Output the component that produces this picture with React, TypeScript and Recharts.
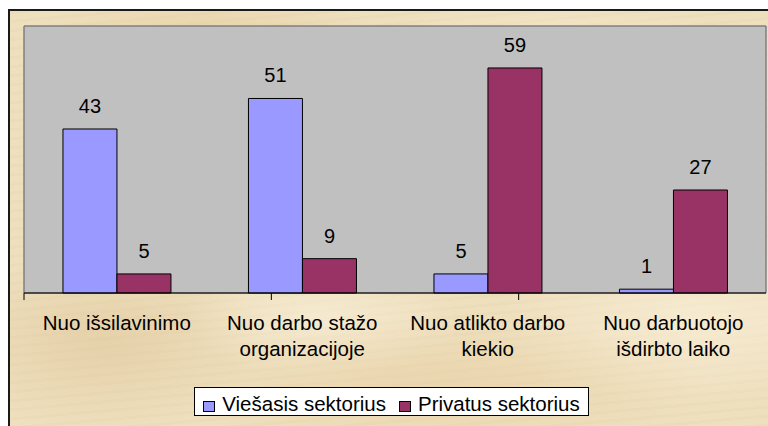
import React from "react";
import { BarChart, Bar, XAxis, YAxis, CartesianGrid, LabelList, Legend } from "recharts";

const categories = [
  "Nuo išsilavinimo",
  "Nuo darbo stažo organizacijoje",
  "Nuo atlikto darbo kiekio",
  "Nuo darbuotojo išdirbto laiko",
];
const tickLines = [
  ["Nuo išsilavinimo"],
  ["Nuo darbo stažo", "organizacijoje"],
  ["Nuo atlikto darbo", "kiekio"],
  ["Nuo darbuotojo", "išdirbto laiko"],
];
const publicSector = [43, 51, 5, 1];
const privateSector = [5, 9, 59, 27];
const seriesNames = ["Viešasis sektorius", "Privatus sektorius"];
const seriesColors = ["#9999ff", "#993366"];
const yTicks = [0, 70];
const boundaryTicks = [0, 1, 2, 3, 4];

const data = categories.map((c, i) => ({
  category: c,
  pub: publicSector[i],
  priv: privateSector[i],
}));

const FONT = "Arial, 'Liberation Sans', sans-serif";

const CategoryTick = (props: any) => {
  const { x, y, payload } = props;
  const idx = categories.indexOf(payload.value);
  const lines = tickLines[idx] || [String(payload.value)];
  return (
    <g>
      {lines.map((l, i) => (
        <text
          key={i}
          x={x}
          y={y + 36 + i * 26}
          textAnchor="middle"
          fontFamily={FONT}
          fontSize={20.5}
          fill="#000"
        >
          {l}
        </text>
      ))}
    </g>
  );
};

const LegendBox = () => (
  <div
    style={{
      boxSizing: "border-box",
      width: 395,
      height: 29,
      border: "1px solid #000",
      background: "#fff",
      display: "flex",
      alignItems: "center",
      justifyContent: "center",
      paddingTop: 4,
      fontFamily: FONT,
      fontSize: 20.5,
      color: "#000",
      whiteSpace: "nowrap",
    }}
  >
    {seriesNames.map((n, i) => (
      <div
        key={n}
        style={{ display: "flex", alignItems: "center", marginLeft: i === 0 ? 0 : 13 }}
      >
        <span
          style={{
            display: "inline-block",
            boxSizing: "border-box",
            width: 12,
            height: 11,
            border: "1px solid #000",
            background: seriesColors[i],
            marginRight: 7,
            marginTop: 6,
          }}
        />
        <span>{n}</span>
      </div>
    ))}
  </div>
);

const parchment = [
  "radial-gradient(ellipse 180px 60px at 25% 8%, rgba(225,200,150,0.55), rgba(225,200,150,0) 100%)",
  "radial-gradient(ellipse 220px 80px at 70% 15%, rgba(250,240,215,0.7), rgba(250,240,215,0) 100%)",
  "radial-gradient(ellipse 160px 90px at 12% 75%, rgba(220,195,150,0.5), rgba(220,195,150,0) 100%)",
  "radial-gradient(ellipse 260px 70px at 55% 85%, rgba(230,205,160,0.5), rgba(230,205,160,0) 100%)",
  "radial-gradient(ellipse 200px 90px at 88% 70%, rgba(250,240,218,0.7), rgba(250,240,218,0) 100%)",
  "radial-gradient(ellipse 140px 60px at 40% 70%, rgba(250,242,222,0.6), rgba(250,242,222,0) 100%)",
  "repeating-linear-gradient(175deg, rgba(200,170,120,0.06) 0px, rgba(200,170,120,0.06) 3px, rgba(255,255,255,0) 3px, rgba(255,255,255,0) 9px)",
].join(",");

export default function App() {
  return (
    <div
      style={{
        position: "absolute",
        left: 0,
        top: 0,
        width: 768,
        height: 426,
        background: "#fff",
        overflow: "hidden",
      }}
    >
      <div
        style={{
          position: "absolute",
          left: 8,
          top: 9,
          width: 780,
          height: 440,
          borderLeft: "2px solid #1a1a1a",
          borderTop: "2px solid #1a1a1a",
          backgroundColor: "#eedfbd",
          backgroundImage: parchment,
        }}
      />
      <div style={{ position: "absolute", left: 0, top: 0 }}>
        <BarChart
          width={768}
          height={426}
          data={data}
          margin={{ top: 26, right: 2, left: 24, bottom: 10 }}
          barCategoryGap="21%"
          barGap={0}
        >
          <CartesianGrid
            fill="#c0c0c0"
            fillOpacity={1}
            stroke="#808080"
            strokeWidth={1.5}
            horizontalCoordinatesGenerator={({ offset }: any) => [offset.top, offset.top + offset.height]}
            verticalCoordinatesGenerator={({ offset }: any) => [offset.left, offset.left + offset.width]}
          />
          <XAxis
            xAxisId={0}
            type="number"
            domain={[0, 4]}
            ticks={boundaryTicks}
            height={1}
            axisLine={{ stroke: "#000", strokeWidth: 1.2 }}
            tickLine={{ stroke: "#000" }}
            tickSize={7}
            tickFormatter={() => ""}
            allowDataOverflow
          />
          <XAxis
            xAxisId={1}
            dataKey="category"
            height={93}
            axisLine={false}
            tickLine={false}
            tickSize={0}
            tickMargin={0}
            interval={0}
            tick={<CategoryTick />}
          />
          <YAxis hide domain={[0, 70]} ticks={yTicks} />
          <Legend
            content={<LegendBox />}
            wrapperStyle={{ left: 194, bottom: 10, width: 395, height: 29 }}
          />
          <Bar
            xAxisId={1}
            dataKey="pub"
            name={seriesNames[0]}
            fill={seriesColors[0]}
            stroke="#000"
            strokeWidth={1}
            isAnimationActive={false}
          >
            <LabelList dataKey="pub" position="top" offset={16} fill="#000" fontSize={20} fontFamily={FONT} />
          </Bar>
          <Bar
            xAxisId={1}
            dataKey="priv"
            name={seriesNames[1]}
            fill={seriesColors[1]}
            stroke="#000"
            strokeWidth={1}
            isAnimationActive={false}
          >
            <LabelList dataKey="priv" position="top" offset={16} fill="#000" fontSize={20} fontFamily={FONT} />
          </Bar>
        </BarChart>
      </div>
    </div>
  );
}
